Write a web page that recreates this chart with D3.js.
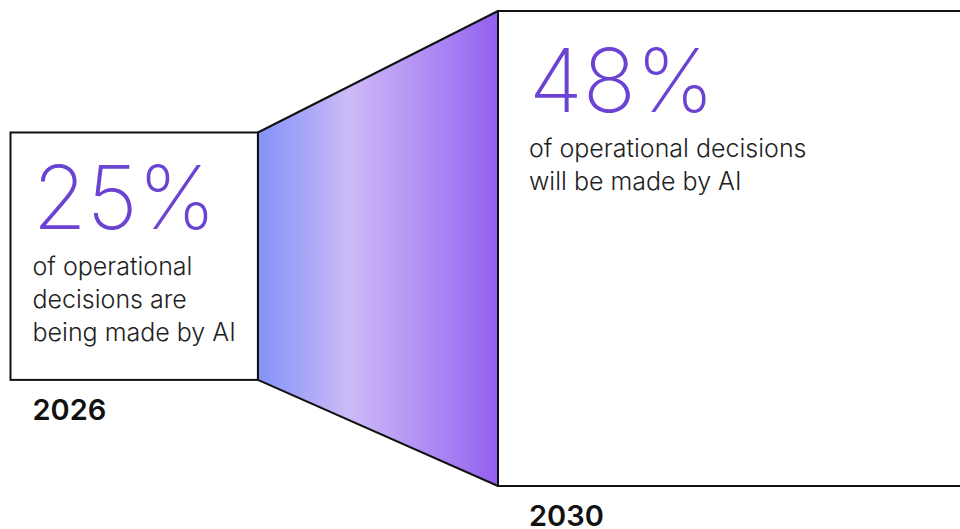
<!DOCTYPE html>
<html>
<head>
    <meta charset="utf-8">
    <title>AI decisions</title>
    <script src="https://d3js.org/d3.v7.min.js"></script>
    <style>
        body { margin: 0; background: #fff; }
        svg { display: block; font-family: "Inter", "Noto Sans", sans-serif; }
    </style>
</head>
<body>
    <svg width="960" height="529" id="chart"></svg>
    <script>
        // data
        const years = ["2026", "2030"]
        const values = [25, 48]
        const captions = [
            ["of operational", "decisions are", "being made by AI"],
            ["of operational decisions", "will be made by AI"]
        ]

        const svg = d3.select("#chart")

        // box side is proportional to the value
        const side = d3.scaleLinear().domain([0, 48]).range([0, 475])
        const boxX = [10.5, 498]
        const boxY = [132.5, 11]
        const pad = [22, 31]

        const boxes = years.map((y, i) => ({
            year: y, value: values[i], lines: captions[i],
            x: boxX[i], y: boxY[i], s: side(values[i]), pad: pad[i]
        }))

        const defs = svg.append("defs")
        const grad = defs.append("linearGradient")
            .attr("id", "grow")
            .attr("x1", "0%").attr("x2", "100%")
            .attr("y1", "0%").attr("y2", "0%")
        grad.append("stop").attr("offset", "0%").attr("stop-color", "#8192f6")
        grad.append("stop").attr("offset", "38%").attr("stop-color", "#cdbaf7")
        grad.append("stop").attr("offset", "70%").attr("stop-color", "#b08ef4")
        grad.append("stop").attr("offset", "100%").attr("stop-color", "#935ff0")

        const a = boxes[0], b = boxes[1]
        const pts = [
            [a.x + a.s, a.y], [b.x, b.y], [b.x, b.y + b.s], [a.x + a.s, a.y + a.s]
        ]
        svg.append("path")
            .attr("d", d3.line()(pts) + "Z")
            .attr("fill", "url(#grow)")
            .attr("stroke", "#111")
            .attr("stroke-width", 2)
            .attr("stroke-linejoin", "round")

        const g = svg.selectAll("g.box")
            .data(boxes)
            .enter()
            .append("g")
            .attr("class", "box")
            .attr("transform", d => `translate(${d.x},${d.y})`)

        g.append("rect")
            .attr("width", d => d.s)
            .attr("height", d => d.s)
            .attr("fill", "#fff")
            .attr("stroke", "#111")
            .attr("stroke-width", 2)

        g.append("text")
            .attr("x", d => d.pad)
            .attr("y", (d, i) => i == 0 ? 96 : 101)
            .attr("fill", "#6a43d2")
            .attr("font-size", 88)
            .attr("font-weight", 200)
            .text(d => d.value + "%")

        g.each(function (d, i) {
            const t = d3.select(this).append("text")
                .attr("fill", "#222")
                .attr("font-size", 25)
                .attr("font-weight", 300)
            t.selectAll("tspan")
                .data(d.lines)
                .enter()
                .append("tspan")
                .attr("x", d.pad)
                .attr("y", (l, j) => (i == 0 ? 142 : 146) + j * 33)
                .text(l => l)
        })

        g.append("text")
            .attr("x", d => d.pad)
            .attr("y", d => d.s + 40)
            .attr("fill", "#111")
            .attr("font-size", 29)
            .attr("font-weight", 600)
            .text(d => d.year)
    </script>
</body>
</html>
